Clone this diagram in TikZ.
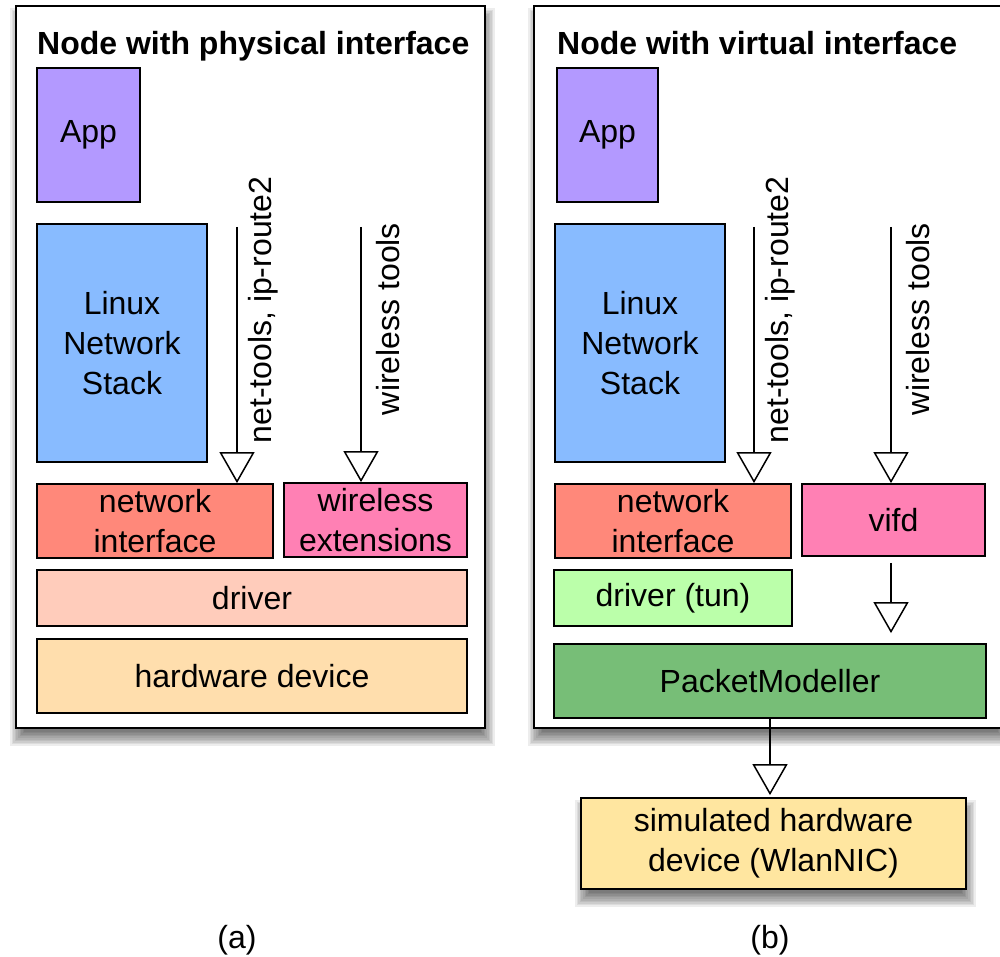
\documentclass[tikz,border=0pt]{standalone}
\usepackage{fontspec}
\setmainfont{Liberation Sans}
\usetikzlibrary{arrows.meta}
\definecolor{cApp}{HTML}{B399FF}
\definecolor{cLns}{HTML}{88BBFF}
\definecolor{cNi}{HTML}{FF887A}
\definecolor{cWe}{HTML}{FF80B4}
\definecolor{cDrv}{HTML}{FFCCBB}
\definecolor{cHw}{HTML}{FFDEAD}
\definecolor{cTun}{HTML}{BBFFAA}
\definecolor{cPm}{HTML}{77BE77}
\definecolor{cSim}{HTML}{FFE6A0}
\newcommand{\softshadow}[4]{%
  \foreach \k in {0,...,9}{%
    \fill[black,fill opacity=0.07] ({#1+2-8+\k*1.6},{#2+10-8+\k*1.6}) rectangle ({#3+2+8-\k*1.6},{#4+10+8-\k*1.6});
  }%
}
\tikzset{
  blk/.style={draw=black, line width=1.8pt, inner sep=0pt, align=center,
    font=\fontsize{32}{40}\selectfont},
  tri/.style={draw=black, line width=1.8pt,
    -{Triangle[open, width=35pt, length=31pt, line width=1.5pt]}},
  lbl/.style={font=\fontsize{32}{40}\selectfont, rotate=90},
  outerbox/.style={draw=black, line width=2.2pt, fill=white, inner sep=0pt},
  ttl/.style={font=\bfseries\fontsize{32}{40}\selectfont, anchor=base west, inner sep=0pt},
  captxt/.style={font=\fontsize{32}{40}\selectfont},
}
\begin{document}
\begin{tikzpicture}[x=1pt, y=-1pt]
\useasboundingbox (0,0) rectangle (1000,957);
% shadows
\softshadow{16}{6}{485}{728}
\softshadow{534}{6}{1002}{728}
\softshadow{581}{798}{966}{889}
% outer panels
\node[outerbox, minimum width=469pt, minimum height=722pt] (panA) at (250.5,367) {};
\node[outerbox, minimum width=468pt, minimum height=722pt] (panB) at (768,367) {};
\node[ttl] (ttlA) at (37,55) {Node with physical interface};
\node[ttl] (ttlB) at (557,55) {Node with virtual interface};
% left panel
\node[blk, fill=cApp, minimum width=103pt, minimum height=134pt] (app1) at (88.5,135) {App};
\node[blk, fill=cLns, minimum width=170pt, minimum height=238pt] (lns1) at (122,343) {Linux\\Network\\Stack};
\node[blk, fill=cNi, minimum width=236pt, minimum height=74pt] (ni1) at (155,521) {network\\interface};
\node[blk, fill=cWe, minimum width=183pt, minimum height=74pt] (we1) at (375.5,520) {wireless\\extensions};
\node[blk, fill=cDrv, minimum width=430pt, minimum height=56pt] (drv1) at (252,598) {driver};
\node[blk, fill=cHw, minimum width=430pt, minimum height=74pt] (hw1) at (252,676) {hardware device};
% right panel
\node[blk, fill=cApp, minimum width=101pt, minimum height=134pt] (app2) at (607.5,135) {App};
\node[blk, fill=cLns, minimum width=170pt, minimum height=238pt] (lns2) at (640,343) {Linux\\Network\\Stack};
\node[blk, fill=cNi, minimum width=236pt, minimum height=74pt] (ni2) at (673,521) {network\\interface};
\node[blk, fill=cWe, minimum width=183pt, minimum height=72pt] (vifd) at (893.5,520) {vifd};
\node[blk, fill=cTun, minimum width=238pt, minimum height=56pt] (drv2) at (673,598) {driver (tun)};
\node[blk, fill=cPm, minimum width=432pt, minimum height=74pt] (pm) at (770,681) {PacketModeller};
\node[blk, fill=cSim, minimum width=385pt, minimum height=91pt] (sim) at (773.5,843.5) {simulated hardware\\device (WlanNIC)};
% arrows
\coordinate (nt1) at (237,227);
\coordinate (wt1) at (361,227);
\coordinate (nt2) at (754,227);
\coordinate (wt2) at (891,227);
\draw[tri] (nt1) -- (nt1 |- ni1.north);
\draw[tri] (wt1) -- (wt1 |- we1.north);
\draw[tri] (nt2) -- (nt2 |- ni2.north);
\draw[tri] (wt2) -- (wt2 |- vifd.north);
\draw[tri, shorten <=6pt, shorten >=10pt] (vifd.south -| wt2) -- (wt2 |- pm.north);
\draw[tri, shorten >=2pt] (pm.south) -- (pm.south |- sim.north);
% labels
\node[lbl] (l1) at (263,310) {net-tools, ip-route2};
\node[lbl] (l2) at (388,319) {wireless tools};
\node[lbl] (l3) at (780,310) {net-tools, ip-route2};
\node[lbl] (l4) at (918,319) {wireless tools};
% captions
\node[captxt] (ca) at (237,940) {(a)};
\node[captxt] (cb) at (770,940) {(b)};
\end{tikzpicture}
\end{document}
